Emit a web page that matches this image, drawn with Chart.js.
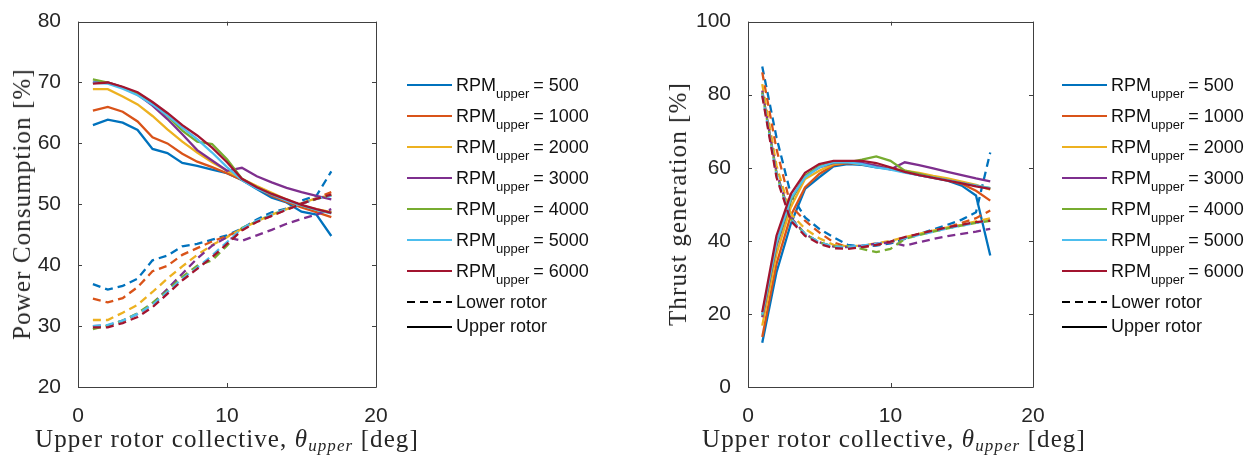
<!DOCTYPE html>
<html>
<head>
<meta charset="utf-8">
<script src="https://cdn.jsdelivr.net/npm/chart.js@4"></script>
<style>
    body { margin: 0; background: #fff; }
    #wrap { position: relative; width: 1258px; height: 457px; overflow: hidden; }
    canvas { position: absolute; top: 0; }
    .ytitle, .xtitle {
        position: absolute;
        font-family: "Liberation Serif", "Times New Roman", serif;
        font-size: 25px;
        letter-spacing: 1.1px;
        color: #262626;
        white-space: nowrap;
    }
    .ytitle { transform: translate(-50%, -50%) rotate(-90deg); }
    .xtitle { transform: translate(-50%, -50%); }
    .xtitle sub { font-size: 17px; vertical-align: -4px; }
    .legend { position: absolute; font-family: "Liberation Sans", Arial, sans-serif; color: #111; }
    .row { position: absolute; left: 0; height: 22px; display: flex; align-items: center; white-space: nowrap; font-size: 18px; }
    .row svg { margin-right: 4px; }
    .row .sub { font-size: 13px; position: relative; top: 8px; margin-right: 4px; }
</style>
</head>
<body>
<div id="wrap">
    <canvas id="power" width="629" height="457" style="left:0"></canvas>
    <canvas id="thrust" width="629" height="457" style="left:629px"></canvas>
    <div class="ytitle" style="left:22px; top:204px">Power Consumption [%]</div>
    <div class="ytitle" style="left:678px; top:204px">Thrust generation [%]</div>
    <div class="xtitle" style="left:227px; top:440px">Upper rotor collective, <i>θ</i><sub><i>upper</i></sub> [deg]</div>
    <div class="xtitle" style="left:894px; top:440px">Upper rotor collective, <i>θ</i><sub><i>upper</i></sub> [deg]</div>
    <div class="legend" id="legPower" style="left:407px; top:0"></div>
    <div class="legend" id="legThrust" style="left:1062px; top:0"></div>
</div>
<script>
// collective angle of the upper rotor [deg]
const theta = [1, 2, 3, 4, 5, 6, 7, 8, 9, 10, 11, 12, 13, 14, 15, 16, 17];
const rpmUpper = [500, 1000, 2000, 3000, 4000, 5000, 6000];
const colors = ["#0072BD", "#D95319", "#EDB120", "#7E2F8E", "#77AC30", "#4DBEEE", "#A2142F"];

// power consumption [%], upper rotor
const powerUpper500 = [63.0, 63.9, 63.4, 62.2, 59.1, 58.4, 56.8, 56.3, 55.7, 55.1, 54.0, 52.5, 51.1, 50.3, 48.8, 48.3, 44.8];
const powerUpper1000 = [65.4, 66.0, 65.2, 63.6, 61.0, 60.0, 58.3, 57.0, 56.1, 55.1, 54.0, 52.7, 51.4, 50.4, 49.5, 48.7, 47.9];
const powerUpper2000 = [68.9, 68.9, 67.7, 66.4, 64.5, 62.3, 60.3, 58.5, 56.9, 55.5, 54.2, 53.0, 51.9, 50.8, 49.8, 49.2, 48.7];
const powerUpper3000 = [70.1, 70.0, 69.2, 68.0, 66.2, 64.0, 61.5, 58.9, 57.2, 55.5, 56.0, 54.6, 53.6, 52.7, 52.0, 51.4, 50.8];
const powerUpper4000 = [70.5, 70.0, 69.2, 68.1, 66.6, 64.5, 62.1, 60.3, 59.9, 57.4, 54.2, 52.8, 51.7, 50.7, 49.8, 49.1, 48.6];
const powerUpper5000 = [70.0, 69.8, 69.0, 67.9, 66.4, 64.6, 62.6, 60.7, 58.5, 56.1, 54.0, 52.6, 51.6, 50.6, 49.8, 49.1, 48.5];
const powerUpper6000 = [69.8, 70.0, 69.3, 68.4, 66.8, 65.0, 63.0, 61.3, 59.3, 56.9, 54.2, 52.8, 51.7, 50.8, 49.9, 49.2, 48.6];

// power consumption [%], lower rotor
const powerLower500 = [36.9, 36.0, 36.6, 37.8, 40.8, 41.6, 43.1, 43.5, 44.2, 44.9, 46.0, 47.5, 48.7, 49.3, 50.6, 51.4, 55.4];
const powerLower1000 = [34.5, 33.9, 34.6, 36.4, 39.0, 39.9, 41.7, 42.8, 43.9, 44.8, 45.8, 47.2, 48.1, 49.2, 50.1, 51.0, 52.0];
const powerLower2000 = [31.0, 31.0, 32.2, 33.5, 35.6, 37.8, 39.8, 41.7, 43.3, 44.6, 46.0, 47.2, 48.3, 49.2, 50.2, 51.0, 51.5];
const powerLower3000 = [30.0, 30.1, 30.9, 32.0, 33.7, 36.1, 38.6, 41.1, 43.2, 44.6, 44.0, 44.9, 45.8, 46.8, 47.6, 48.3, 49.2];
const powerLower4000 = [29.5, 30.1, 30.9, 32.1, 33.8, 35.8, 38.1, 39.9, 40.8, 43.2, 46.1, 47.2, 48.3, 49.2, 50.1, 50.9, 51.5];
const powerLower5000 = [30.0, 30.2, 30.9, 32.0, 33.5, 35.6, 37.8, 39.6, 41.6, 43.8, 46.0, 47.3, 48.3, 49.2, 50.1, 50.9, 51.4];
const powerLower6000 = [29.8, 29.8, 30.5, 31.5, 33.1, 35.3, 37.5, 39.4, 41.3, 43.5, 45.7, 47.1, 48.1, 49.1, 50.1, 50.9, 51.6];

// thrust generation [%], upper rotor
const thrustUpper500 = [12.1, 31.4, 44.6, 54.2, 57.4, 60.4, 61.0, 60.8, 60.1, 59.7, 58.9, 58.0, 57.2, 56.5, 55.1, 52.4, 36.0];
const thrustUpper1000 = [13.7, 33.7, 46.9, 54.6, 58.3, 60.7, 61.3, 61.0, 60.4, 59.7, 58.9, 58.1, 57.4, 56.6, 55.6, 53.7, 51.0];
const thrustUpper2000 = [16.8, 36.4, 49.2, 56.9, 59.2, 61.0, 61.5, 61.0, 60.6, 59.8, 59.2, 58.6, 57.8, 57.1, 56.2, 55.3, 54.0];
const thrustUpper3000 = [19.1, 38.7, 51.0, 57.8, 60.1, 61.3, 61.5, 61.3, 60.6, 59.5, 61.5, 60.7, 59.8, 58.9, 58.0, 57.1, 56.3];
const thrustUpper4000 = [19.6, 39.2, 51.0, 57.8, 60.4, 61.5, 61.5, 62.2, 63.1, 61.9, 59.2, 58.3, 57.4, 56.6, 55.8, 55.1, 54.4];
const thrustUpper5000 = [19.8, 39.6, 51.6, 57.4, 60.1, 61.5, 61.5, 61.0, 60.1, 59.5, 58.7, 58.0, 57.3, 56.6, 55.8, 55.1, 54.4];
const thrustUpper6000 = [20.5, 41.4, 52.8, 58.6, 61.0, 61.9, 61.9, 61.9, 61.3, 60.1, 58.9, 58.0, 57.2, 56.5, 55.7, 54.9, 54.2];

// thrust generation [%], lower rotor
const thrustLower500 = [87.7, 68.3, 52.8, 46.4, 43.3, 41.0, 38.9, 38.5, 38.7, 39.3, 40.5, 41.9, 43.1, 44.4, 45.8, 47.8, 64.2];
const thrustLower1000 = [86.1, 65.1, 49.6, 45.5, 42.3, 39.6, 38.3, 38.3, 38.9, 39.6, 40.7, 41.9, 42.8, 43.7, 44.9, 46.2, 48.3];
const thrustLower2000 = [82.9, 60.6, 47.4, 43.3, 40.7, 38.9, 38.5, 38.7, 39.3, 40.0, 41.0, 41.9, 42.8, 43.7, 44.4, 45.3, 46.2];
const thrustLower3000 = [81.1, 58.7, 46.4, 41.9, 39.6, 38.4, 38.3, 38.7, 39.2, 39.6, 38.7, 39.6, 40.5, 41.3, 41.9, 42.5, 43.3];
const thrustLower4000 = [80.6, 58.3, 46.0, 41.9, 39.6, 38.5, 38.5, 37.8, 36.9, 37.8, 40.5, 41.6, 42.5, 43.4, 44.2, 44.9, 45.5];
const thrustLower5000 = [80.1, 58.0, 46.0, 41.9, 39.6, 38.4, 38.3, 38.7, 39.2, 39.8, 40.7, 41.6, 42.5, 43.4, 44.2, 44.9, 45.5];
const thrustLower6000 = [79.7, 57.4, 45.5, 41.4, 39.2, 38.0, 37.8, 38.3, 38.9, 39.8, 41.0, 41.9, 42.8, 43.7, 44.4, 45.1, 45.5];

const powerUpper = [powerUpper500, powerUpper1000, powerUpper2000, powerUpper3000, powerUpper4000, powerUpper5000, powerUpper6000];
const powerLower = [powerLower500, powerLower1000, powerLower2000, powerLower3000, powerLower4000, powerLower5000, powerLower6000];
const thrustUpper = [thrustUpper500, thrustUpper1000, thrustUpper2000, thrustUpper3000, thrustUpper4000, thrustUpper5000, thrustUpper6000];
const thrustLower = [thrustLower500, thrustLower1000, thrustLower2000, thrustLower3000, thrustLower4000, thrustLower5000, thrustLower6000];

Chart.defaults.font.family = "'Liberation Sans', Arial, sans-serif";
Chart.defaults.font.size = 21;
Chart.defaults.color = "#262626";

// MATLAB style box with inward tick marks
const boxPlugin = {
    id: "box",
    afterDraw(chart) {
        const { ctx, chartArea: a, scales } = chart;
        ctx.save();
        ctx.strokeStyle = "#404040";
        ctx.lineWidth = 1;
        ctx.beginPath();
        ctx.rect(Math.round(a.left) + 0.5, Math.round(a.top) + 0.5,
            Math.round(a.right - a.left), Math.round(a.bottom - a.top));
        const len = 4;
        scales.x.ticks.forEach((t) => {
            const px = Math.round(scales.x.getPixelForValue(t.value)) + 0.5;
            ctx.moveTo(px, a.bottom); ctx.lineTo(px, a.bottom - len);
            ctx.moveTo(px, a.top); ctx.lineTo(px, a.top + len);
        });
        scales.y.ticks.forEach((t) => {
            const py = Math.round(scales.y.getPixelForValue(t.value)) + 0.5;
            ctx.moveTo(a.left, py); ctx.lineTo(a.left + len, py);
            ctx.moveTo(a.right, py); ctx.lineTo(a.right - len, py);
        });
        ctx.stroke();
        ctx.restore();
    },
};

function buildDatasets(upper, lower) {
    const sets = [];
    rpmUpper.forEach((rpm, i) => {
        sets.push({
            label: "Lower " + rpm,
            data: theta.map((t, k) => ({ x: t, y: lower[i][k] })),
            borderColor: colors[i],
            borderDash: [8, 5],
            order: 100 - 2 * i,
        });
        sets.push({
            label: "Upper " + rpm,
            data: theta.map((t, k) => ({ x: t, y: upper[i][k] })),
            borderColor: colors[i],
            order: 99 - 2 * i,
        });
    });
    return sets;
}

function createChart(id, upper, lower, yMin, yMax, yStep, axisWidth, rightPad) {
    new Chart(document.getElementById(id), {
        type: "line",
        data: { datasets: buildDatasets(upper, lower) },
        options: {
            responsive: false,
            animation: false,
            devicePixelRatio: 1,
            layout: { padding: { left: 0, right: rightPad, top: 21, bottom: 0 } },
            elements: {
                point: { radius: 0 },
                line: { borderWidth: 2.3, tension: 0 },
            },
            plugins: { legend: { display: false }, tooltip: { enabled: false } },
            scales: {
                x: {
                    type: "linear",
                    min: 0,
                    max: 20,
                    grid: { display: false },
                    border: { display: false },
                    ticks: { stepSize: 10, padding: 9 },
                    afterFit: (s) => { s.height = 70; },
                },
                y: {
                    min: yMin,
                    max: yMax,
                    grid: { display: false },
                    border: { display: false },
                    ticks: { stepSize: yStep, padding: 9 },
                    afterFit: (s) => { s.width = axisWidth; },
                },
            },
        },
        plugins: [boxPlugin],
    });
}

createChart("power", powerUpper, powerLower, 20, 80, 10, 78, 253);
createChart("thrust", thrustUpper, thrustLower, 0, 100, 20, 119, 225);

// legend with subscripted labels
function sample(color, dashed) {
    return '<svg width="45" height="4"><line x1="0" y1="2" x2="45" y2="2" stroke="' + color +
        '" stroke-width="2"' + (dashed ? ' stroke-dasharray="8,5"' : "") + "/></svg>";
}

function buildLegend(id) {
    const el = document.getElementById(id);
    const rowCenters = [85, 116, 147, 178, 209, 240, 271, 302, 326.5];
    let html = "";
    rpmUpper.forEach((rpm, i) => {
        html += '<div class="row" style="top:' + (rowCenters[i] - 11) + 'px">' + sample(colors[i], false) +
            'RPM<span class="sub">upper</span>= ' + rpm + "</div>";
    });
    html += '<div class="row" style="top:' + (rowCenters[7] - 11) + 'px">' + sample("#000", true) + "Lower rotor</div>";
    html += '<div class="row" style="top:' + (rowCenters[8] - 11) + 'px">' + sample("#000", false) + "Upper rotor</div>";
    el.innerHTML = html;
}
buildLegend("legPower");
buildLegend("legThrust");
</script>
</body>
</html>
